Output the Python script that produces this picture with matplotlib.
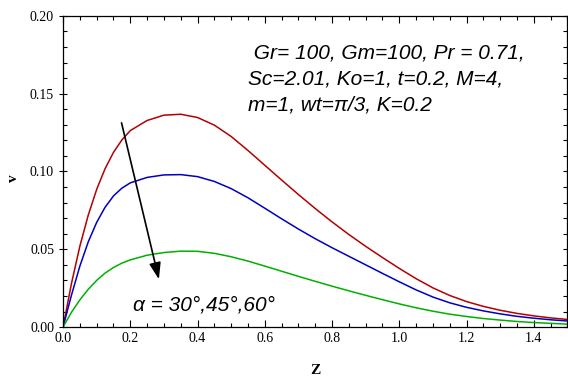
import numpy as np
import matplotlib
matplotlib.use('Agg')
import matplotlib.pyplot as plt
from matplotlib.ticker import MultipleLocator, FormatStrFormatter

# values
z = [0.0, 0.025, 0.05, 0.075, 0.1, 0.125, 0.15, 0.175, 0.2, 0.25, 0.3, 0.35,
     0.4, 0.45, 0.5, 0.55, 0.6, 0.65, 0.7, 0.75, 0.8, 0.85, 0.9, 0.95, 1.0,
     1.05, 1.1, 1.15, 1.2, 1.25, 1.3, 1.35, 1.4, 1.45, 1.5]

v_30 = [0.0, 0.028, 0.052, 0.072, 0.0885, 0.1018, 0.1123, 0.1203, 0.1263,
        0.1328, 0.1362, 0.1368, 0.1347, 0.1298, 0.1225, 0.1135, 0.1040,
        0.0945, 0.0852, 0.0762, 0.0676, 0.0595, 0.0519, 0.0447, 0.0377,
        0.0311, 0.0252, 0.0203, 0.0164, 0.0133, 0.0108, 0.0088, 0.0072,
        0.0059, 0.0049]

v_45 = [0.0, 0.0205, 0.0392, 0.0548, 0.0673, 0.0770, 0.0843, 0.0893, 0.0927,
        0.0962, 0.0978, 0.0980, 0.0967, 0.0936, 0.0890, 0.0831, 0.0764,
        0.0696, 0.0630, 0.0568, 0.0510, 0.0455, 0.0400, 0.0345, 0.0291,
        0.0239, 0.0193, 0.0156, 0.0127, 0.0104, 0.0085, 0.0069, 0.0057,
        0.0047, 0.0039]

v_60 = [0.0, 0.0095, 0.0175, 0.0243, 0.0300, 0.0347, 0.0383, 0.0411, 0.0432,
        0.0462, 0.0479, 0.0488, 0.0487, 0.0474, 0.0452, 0.0424, 0.0392,
        0.0359, 0.0326, 0.0294, 0.0263, 0.0233, 0.0204, 0.0176, 0.0149,
        0.0124, 0.0102, 0.0083, 0.0068, 0.0055, 0.0045, 0.0036, 0.0029,
        0.0024, 0.0019]

params = ' Gr= 100, Gm=100, Pr = 0.71,\nSc=2.01, Ko=1, t=0.2, M=4,\nm=1, wt=\u03c0/3, K=0.2'

fig = plt.figure(figsize=(5.68, 3.79), dpi=100)
ax = fig.add_axes([0.111, 0.137, 0.888, 0.821])

ax.plot(z, v_30, color='#b40000', lw=1.1)
ax.plot(z, v_45, color='#0000c0', lw=1.1)
ax.plot(z, v_60, color='#00b000', lw=1.1)

ax.set_xlim(0, 1.5)
ax.set_ylim(0, 0.2)
ax.xaxis.set_major_locator(MultipleLocator(0.2))
ax.xaxis.set_minor_locator(MultipleLocator(0.05))
ax.yaxis.set_major_locator(MultipleLocator(0.05))
ax.yaxis.set_minor_locator(MultipleLocator(0.01))
ax.xaxis.set_major_formatter(FormatStrFormatter('%.1f'))
ax.yaxis.set_major_formatter(FormatStrFormatter('%.2f'))

ax.tick_params(which='both', direction='in', top=True, right=True, width=0.8)
ax.tick_params(which='major', length=5)
ax.tick_params(which='minor', length=3)
ax.tick_params(axis='y', which='major', direction='inout', length=6)
for lab in ax.get_xticklabels() + ax.get_yticklabels():
    lab.set_family('Liberation Serif')
    lab.set_fontsize(10)

ax.set_xlabel('Z', family='Liberation Serif', fontweight='bold', fontsize=11)
ax.xaxis.set_label_coords(0.5, -0.12)
ax.set_ylabel('v', family='Liberation Serif', fontweight='bold', fontsize=11)
ax.yaxis.set_label_coords(-0.085, 0.48)

ax.annotate('', xy=(0.287, 0.029), xytext=(0.172, 0.133),
            arrowprops=dict(arrowstyle='-|>,head_length=1.0,head_width=0.35',
                            color='black', lw=1.2))
ax.text(0.208, 0.0145, '\u03b1 = 30\u00b0,45\u00b0,60\u00b0', family='Liberation Sans',
        style='italic', fontsize=15, va='center')
ax.text(0.55, 0.1825, params, family='Liberation Sans', style='italic',
        fontsize=15, va='top', linespacing=1.47)

for s in ax.spines.values():
    s.set_linewidth(0.9)

fig.savefig('out.png', dpi=100)
